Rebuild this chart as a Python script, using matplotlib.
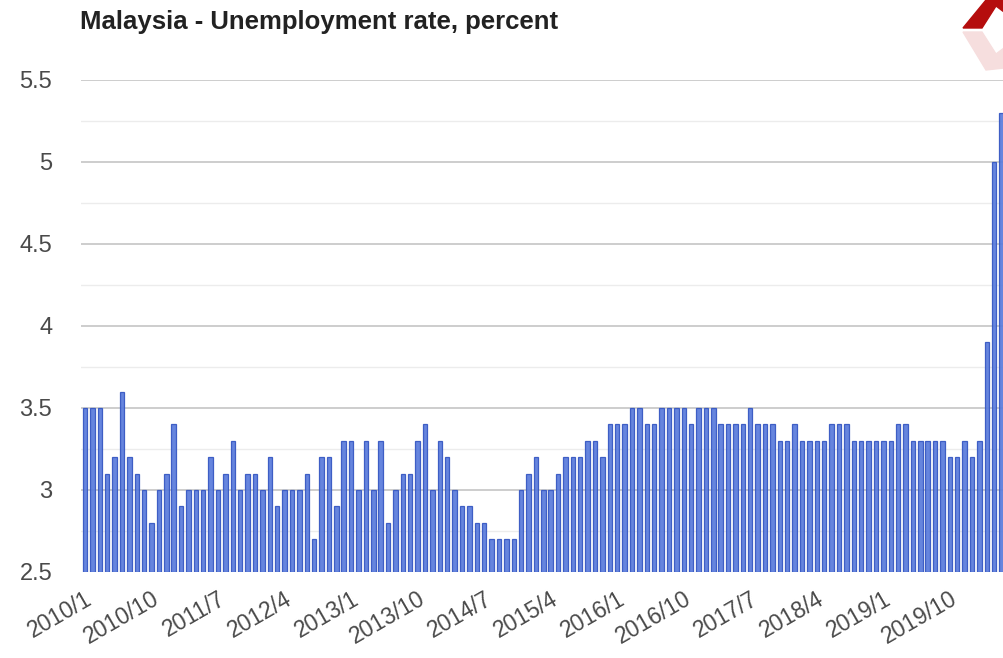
import numpy as np
import matplotlib.pyplot as plt
from matplotlib.patches import Polygon

# monthly unemployment rate, 2010/1 .. 2020/5
rate_2010_2012 = [3.5, 3.5, 3.5, 3.1, 3.2, 3.6, 3.2, 3.1, 3.0, 2.8, 3.0, 3.1,
                  3.4, 2.9, 3.0, 3.0, 3.0, 3.2, 3.0, 3.1, 3.3, 3.0, 3.1, 3.1,
                  3.0, 3.2, 2.9, 3.0, 3.0, 3.0, 3.1, 2.7, 3.2, 3.2, 2.9, 3.3]
rate_2013_2015 = [3.3, 3.0, 3.3, 3.0, 3.3, 2.8, 3.0, 3.1, 3.1, 3.3, 3.4, 3.0,
                  3.3, 3.2, 3.0, 2.9, 2.9, 2.8, 2.8, 2.7, 2.7, 2.7, 2.7, 3.0,
                  3.1, 3.2, 3.0, 3.0, 3.1, 3.2, 3.2, 3.2, 3.3, 3.3, 3.2, 3.4]
rate_2016_2018 = [3.4, 3.4, 3.5, 3.5, 3.4, 3.4, 3.5, 3.5, 3.5, 3.5, 3.4, 3.5,
                  3.5, 3.5, 3.4, 3.4, 3.4, 3.4, 3.5, 3.4, 3.4, 3.4, 3.3, 3.3,
                  3.4, 3.3, 3.3, 3.3, 3.3, 3.4, 3.4, 3.4, 3.3, 3.3, 3.3, 3.3]
rate_2019_2020 = [3.3, 3.3, 3.4, 3.4, 3.3, 3.3, 3.3, 3.3, 3.3, 3.2, 3.2, 3.3,
                  3.2, 3.3, 3.9, 5.0, 5.3]
rates = rate_2010_2012 + rate_2013_2015 + rate_2016_2018 + rate_2019_2020

months = [f"{2010 + i // 12}/{i % 12 + 1}" for i in range(len(rates))]
y_ticks = [2.5, 3, 3.5, 4, 4.5, 5, 5.5]
y_tick_labels = ["2.5", "3", "3.5", "4", "4.5", "5", "5.5"]
title = "Malaysia - Unemployment rate, percent"

plt.rcParams['font.family'] = ['Liberation Sans', 'DejaVu Sans']

W, H = 1004, 658
fig = plt.figure(figsize=(W / 100, H / 100), dpi=100)
ax = fig.add_axes([81.3 / W, 1 - 572 / H, 924 / W, 492 / H])

x = np.arange(len(rates))
ax.bar(x, np.array(rates) - 2.5, bottom=2.5, width=0.6, color='#5a7cdc',
       edgecolor='#3557c2', linewidth=0.9, alpha=0.93, zorder=3)

ax.set_xlim(-0.5, len(rates) - 0.5)
ax.set_ylim(2.5, 5.5)

# grid: major every 0.5, light minor lines in between
for v in np.arange(2.75, 5.5, 0.5):
    ax.axhline(v, color='#ececec', lw=1.0, zorder=1)
for v in y_ticks[1:]:
    ax.axhline(v, color='#c9c9c9', lw=1.3, zorder=1)

ax.set_yticks(y_ticks)
ax.set_yticklabels(y_tick_labels, fontsize=17, color='#4a4a4a')
ax.tick_params(axis='y', length=0, pad=21)

ax.set_xticks(x[::9])
ax.set_xticklabels(months[::9], rotation=30, ha='right', va='top',
                   rotation_mode='anchor', fontsize=16.5, color='#4a4a4a')
ax.tick_params(axis='x', length=0, pad=11)

for s in ax.spines.values():
    s.set_visible(False)

fig.text(80 / W, 1 - 22 / H, title, fontsize=18.5, fontweight='bold',
         color='#222222', va='center', ha='left')

# red logo in the top-right corner
logo = [(963, 28), (986, 0), (1004, 0), (1004, 12), (996, 6), (982, 28)]
fig.patches.append(Polygon([(px / W, 1 - py / H) for px, py in logo],
                           closed=True, transform=fig.transFigure,
                           color='#b50d0d', zorder=5))
shadow = [(963, 32), (982, 32), (996, 54), (1004, 48), (1004, 68), (986, 70)]
fig.patches.append(Polygon([(px / W, 1 - py / H) for px, py in shadow],
                           closed=True, transform=fig.transFigure,
                           color='#f6dede', zorder=5))

fig.savefig('out.png', dpi=100)
